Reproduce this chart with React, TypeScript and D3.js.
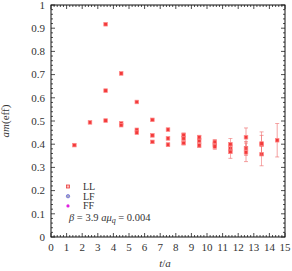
import { useEffect, useRef } from "react"
import * as d3 from "d3"

const times = [1.5, 2.5, 3.5, 4.5, 5.5, 6.5, 7.5, 8.5, 9.5, 10.5, 11.5, 12.5, 13.5, 14.5]
const llValues = [0.396, 0.494, 0.917, 0.705, 0.582, 0.505, 0.463, 0.44, 0.43, 0.41, 0.4, 0.43, 0.403, 0.417]
const llErrors = [0.003, 0.003, 0.004, 0.004, 0.004, 0.005, 0.006, 0.008, 0.008, 0.01, 0.025, 0.04, 0.05, 0.072]
const lfValues = [null, null, 0.631, 0.49, 0.462, 0.438, 0.425, 0.425, 0.415, 0.4, 0.382, 0.382, 0.398, null]
const lfErrors = [0, 0, 0.004, 0.004, 0.004, 0.005, 0.006, 0.008, 0.009, 0.01, 0.015, 0.03, 0.04, 0]
const ffValues = [null, null, 0.502, 0.482, 0.45, 0.41, 0.398, 0.405, 0.395, 0.39, 0.367, 0.365, 0.357, null]
const ffErrors = [0, 0, 0.004, 0.004, 0.005, 0.006, 0.007, 0.008, 0.009, 0.012, 0.028, 0.04, 0.05, 0]
const legendLabels = ["LL", "LF", "FF"]
const legendColors = ["#e8403f", "#6f6fe0", "#e020e0"]
const xTickValues = d3.range(0, 16)
const yTickValues = [0, 0.1, 0.2, 0.3, 0.4, 0.5, 0.6, 0.7, 0.8, 0.9, 1]

export default function App() {
  const svgRef = useRef<SVGSVGElement>(null)
  const width = 292
  const height = 271

  useEffect(() => {
    if (!svgRef.current) return
    const svg = d3.select(svgRef.current)
    svg.selectAll("*").remove()

    const margin = { top: 5, right: 7, bottom: 34, left: 51 }
    const x = d3.scaleLinear().domain([0, 15]).range([margin.left, width - margin.right])
    const y = d3.scaleLinear().domain([0, 1]).range([height - margin.bottom, margin.top])
    const font = "Liberation Serif, DejaVu Serif, serif"

    // ticks on all four sides, pointing inward
    const ticks = svg.append("g").attr("stroke", "#222").attr("stroke-width", 0.8)
    d3.range(0, 15.01, 0.2).forEach((v) => {
      const major = Math.abs(v - Math.round(v)) < 1e-6
      const len = major ? 4 : 2
      ticks.append("line").attr("x1", x(v)).attr("x2", x(v)).attr("y1", y(0)).attr("y2", y(0) - len)
      ticks.append("line").attr("x1", x(v)).attr("x2", x(v)).attr("y1", y(1)).attr("y2", y(1) + len)
    })
    d3.range(0, 1.0001, 0.02).forEach((v) => {
      const major = Math.abs(v * 10 - Math.round(v * 10)) < 1e-6
      const len = major ? 4 : 2
      ticks.append("line").attr("x1", x(0)).attr("x2", x(0) + len).attr("y1", y(v)).attr("y2", y(v))
      ticks.append("line").attr("x1", x(15)).attr("x2", x(15) - len).attr("y1", y(v)).attr("y2", y(v))
    })

    svg.append("rect")
      .attr("x", x(0))
      .attr("y", y(1))
      .attr("width", x(15) - x(0))
      .attr("height", y(0) - y(1))
      .attr("fill", "none")
      .attr("stroke", "#111")
      .attr("stroke-width", 1)

    // tick labels
    svg.append("g")
      .selectAll("text")
      .data(xTickValues)
      .enter()
      .append("text")
      .attr("x", (d) => x(d))
      .attr("y", y(0) + 14)
      .attr("text-anchor", "middle")
      .attr("font-family", font)
      .attr("font-size", 11)
      .attr("fill", "#333")
      .text((d) => d)

    svg.append("g")
      .selectAll("text")
      .data(yTickValues)
      .enter()
      .append("text")
      .attr("x", x(0) - 6)
      .attr("y", (d) => y(d) + 3.8)
      .attr("text-anchor", "end")
      .attr("font-family", font)
      .attr("font-size", 11)
      .attr("fill", "#333")
      .text((d) => (d === 0 ? "0" : d === 1 ? "1" : d3.format(".1f")(d)))

    // axis titles
    const xt = svg.append("text")
      .attr("x", (x(0) + x(15)) / 2 - 3)
      .attr("y", 267)
      .attr("text-anchor", "middle")
      .attr("font-family", font)
      .attr("font-size", 11)
      .attr("fill", "#333")
    xt.append("tspan").attr("font-style", "italic").text("t")
    xt.append("tspan").text("/")
    xt.append("tspan").attr("font-style", "italic").text("a")

    const yt = svg.append("text")
      .attr("transform", `translate(9,${(y(0) + y(1)) / 2}) rotate(-90)`)
      .attr("text-anchor", "middle")
      .attr("font-family", font)
      .attr("font-size", 11)
      .attr("fill", "#333")
    yt.append("tspan").attr("font-style", "italic").text("am")
    yt.append("tspan").text("(eff)")

    // data points with error bars
    const series = [
      { values: lfValues, errors: lfErrors },
      { values: ffValues, errors: ffErrors },
      { values: llValues, errors: llErrors },
    ]
    const data = svg.append("g")
    series.forEach((s) => {
      times.forEach((t, i) => {
        const v = s.values[i]
        if (v == null) return
        const e = s.errors[i]
        if (e > 0.006) {
          data.append("line")
            .attr("x1", x(t)).attr("x2", x(t))
            .attr("y1", y(v - e)).attr("y2", y(v + e))
            .attr("stroke", "#f07070").attr("stroke-width", 0.8).attr("opacity", 0.8)
          ;[v - e, v + e].forEach((c) => {
            data.append("line")
              .attr("x1", x(t) - 2).attr("x2", x(t) + 2)
              .attr("y1", y(c)).attr("y2", y(c))
              .attr("stroke", "#f07070").attr("stroke-width", 0.8).attr("opacity", 0.8)
          })
        }
        data.append("rect")
          .attr("x", x(t) - 1.8)
          .attr("y", y(v) - 1.8)
          .attr("width", 3.6)
          .attr("height", 3.6)
          .attr("fill", "#f23a3a")
          .attr("stroke", "#ff8a8a")
          .attr("stroke-width", 0.7)
      })
    })

    // legend
    const legend = svg.append("g")
    legendLabels.forEach((label, i) => {
      const ly = 186.5 + i * 9.7
      if (i === 0) {
        legend.append("rect")
          .attr("x", 66.5).attr("y", ly - 1.5).attr("width", 3).attr("height", 3)
          .attr("fill", "#fbb").attr("stroke", legendColors[i]).attr("stroke-width", 0.8)
      } else if (i === 1) {
        legend.append("circle")
          .attr("cx", 68).attr("cy", ly).attr("r", 1.7)
          .attr("fill", "#aab").attr("stroke", legendColors[i]).attr("stroke-width", 0.8)
      } else {
        legend.append("circle")
          .attr("cx", 68).attr("cy", ly).attr("r", 1.6)
          .attr("fill", legendColors[i])
      }
      legend.append("text")
        .attr("x", 83)
        .attr("y", ly + 3.5)
        .attr("font-family", font)
        .attr("font-size", 10)
        .attr("fill", "#333")
        .text(label)
    })

    const note = svg.append("text")
      .attr("x", 69)
      .attr("y", 221)
      .attr("font-family", font)
      .attr("font-size", 10.5)
      .attr("fill", "#333")
    note.append("tspan").attr("font-style", "italic").text("β")
    note.append("tspan").text(" = 3.9 ")
    note.append("tspan").attr("font-style", "italic").text("aμ")
    note.append("tspan").attr("font-style", "italic").attr("font-size", 8).attr("dy", 2).text("q")
    note.append("tspan").attr("dy", -2).text(" = 0.004")
  }, [])

  return (
    <svg
      ref={svgRef}
      width={width}
      height={height}
      style={{ position: "absolute", left: 0, top: 0, background: "#fff" }}
    />
  )
}
